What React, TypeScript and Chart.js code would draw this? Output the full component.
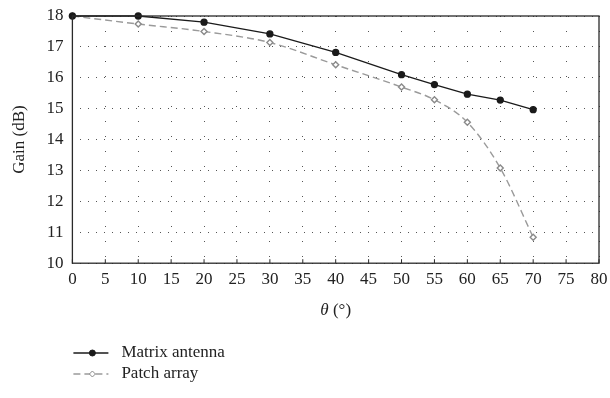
import React, { useEffect, useRef } from "react";
import { Chart, registerables } from "chart.js";

Chart.register(...registerables);

const angles = [0, 10, 20, 30, 40, 50, 55, 60, 65, 70];
const matrixGain = [18, 18, 17.8, 17.42, 16.82, 16.1, 15.78, 15.47, 15.28, 14.97];
const patchGain = [18, 17.74, 17.5, 17.14, 16.42, 15.7, 15.29, 14.56, 13.08, 10.84];
const seriesNames = ["Matrix antenna", "Patch array"];
const xTitle = "(°)";
const xTitleSymbol = "θ";
const yTitle = "Gain (dB)";

const FONT = "'Liberation Serif', 'DejaVu Serif', serif";

const framePlugin = {
  id: "frame",
  afterDraw(chart: any) {
    const { ctx, chartArea } = chart;
    const { left, right, top, bottom } = chartArea;
    ctx.save();
    ctx.strokeStyle = "#2a2a2a";
    ctx.lineWidth = 1.3;
    ctx.strokeRect(left, top, right - left, bottom - top);
    const xs = chart.scales.x;
    ctx.lineWidth = 1;
    xs.ticks.forEach((t: any) => {
      const px = xs.getPixelForValue(t.value);
      ctx.beginPath();
      ctx.moveTo(px, bottom);
      ctx.lineTo(px, bottom - 4);
      ctx.stroke();
    });
    // x axis title with italic theta
    ctx.fillStyle = "#222";
    ctx.textBaseline = "middle";
    ctx.font = `italic 17px ${FONT}`;
    const w1 = ctx.measureText(xTitleSymbol + " ").width;
    ctx.font = `17px ${FONT}`;
    const w2 = ctx.measureText(xTitle).width;
    const cx0 = (left + right) / 2 - (w1 + w2) / 2;
    const ty = 311;
    ctx.textAlign = "left";
    ctx.font = `italic 17px ${FONT}`;
    ctx.fillText(xTitleSymbol + " ", cx0, ty);
    ctx.font = `17px ${FONT}`;
    ctx.fillText(xTitle, cx0 + w1, ty);
    // legend
    const ds = chart.data.datasets;
    const lx = left + 1;
    const rows = [353, 374];
    ds.forEach((d: any, i: number) => {
      const y = rows[i];
      ctx.strokeStyle = d.borderColor;
      ctx.lineWidth = d.borderWidth;
      ctx.setLineDash(d.borderDash || []);
      ctx.beginPath();
      ctx.moveTo(lx, y);
      ctx.lineTo(lx + 35, y);
      ctx.stroke();
      ctx.setLineDash([]);
      ctx.fillStyle = d.pointBackgroundColor;
      ctx.strokeStyle = d.pointBorderColor;
      ctx.lineWidth = 1;
      const cx = lx + 19;
      ctx.beginPath();
      if (d.pointStyle === "rectRot") {
        const r = 3;
        ctx.moveTo(cx, y - r);
        ctx.lineTo(cx + r, y);
        ctx.lineTo(cx, y + r);
        ctx.lineTo(cx - r, y);
        ctx.closePath();
      } else {
        ctx.arc(cx, y, 3, 0, Math.PI * 2);
      }
      ctx.fill();
      ctx.stroke();
      ctx.fillStyle = "#222";
      ctx.font = `17px ${FONT}`;
      ctx.textBaseline = "middle";
      ctx.textAlign = "left";
      ctx.fillText(d.label, lx + 48, y);
    });
    ctx.restore();
  },
};

export default function App() {
  const ref = useRef<HTMLCanvasElement>(null);
  useEffect(() => {
    if (!ref.current) return;
    const chart = new Chart(ref.current, {
      type: "line",
      data: {
        datasets: [
          {
            label: seriesNames[0],
            data: angles.map((a, i) => ({ x: a, y: matrixGain[i] })),
            borderColor: "#1a1a1a",
            borderWidth: 1.3,
            pointBackgroundColor: "#1a1a1a",
            pointBorderColor: "#1a1a1a",
            pointRadius: 3,
            pointStyle: "circle",
            tension: 0,
            clip: false,
          },
          {
            label: seriesNames[1],
            data: angles.map((a, i) => ({ x: a, y: patchGain[i] })),
            borderColor: "#9a9a9a",
            borderWidth: 1.4,
            borderDash: [7, 4],
            pointBackgroundColor: "#ffffff",
            pointBorderColor: "#8a8a8a",
            pointRadius: 3,
            pointStyle: "rectRot",
            cubicInterpolationMode: "monotone",
            clip: false,
          },
        ] as any,
      },
      options: {
        animation: false,
        responsive: false,
        maintainAspectRatio: false,
        layout: { padding: { left: 5, right: 11, top: 16, bottom: 74 } },
        plugins: { legend: { display: false }, tooltip: { enabled: false } },
        scales: {
          x: {
            type: "linear",
            min: 0,
            max: 80,
            afterFit: (s: any) => { s.paddingRight = 0; s.paddingLeft = 0; },
            ticks: { stepSize: 5, color: "#222", font: { family: FONT, size: 17 }, padding: 6 },
            grid: { color: "#555", drawTicks: false },
            border: { display: false, dash: [1, 14] },
            title: { display: true, text: " ", color: "#222", font: { family: FONT, size: 17 }, padding: { top: 4 } },
          },
          y: {
            min: 10,
            max: 18,
            afterFit: (s: any) => { s.paddingTop = 0; },
            ticks: { stepSize: 1, color: "#222", font: { family: FONT, size: 17 }, padding: 9 },
            grid: { color: "#555", drawTicks: false },
            border: { display: false, dash: [1, 7] },
            title: { display: true, text: yTitle, color: "#222", font: { family: FONT, size: 17 }, padding: { bottom: 8 } },
          },
        },
      },
      plugins: [framePlugin],
    });
    return () => chart.destroy();
  }, []);
  return (
    <div style={{ position: "fixed", left: 0, top: 0, width: 610, height: 398, background: "#fff" }}>
      <canvas ref={ref} width={610} height={398} style={{ width: 610, height: 398 }} />
    </div>
  );
}
